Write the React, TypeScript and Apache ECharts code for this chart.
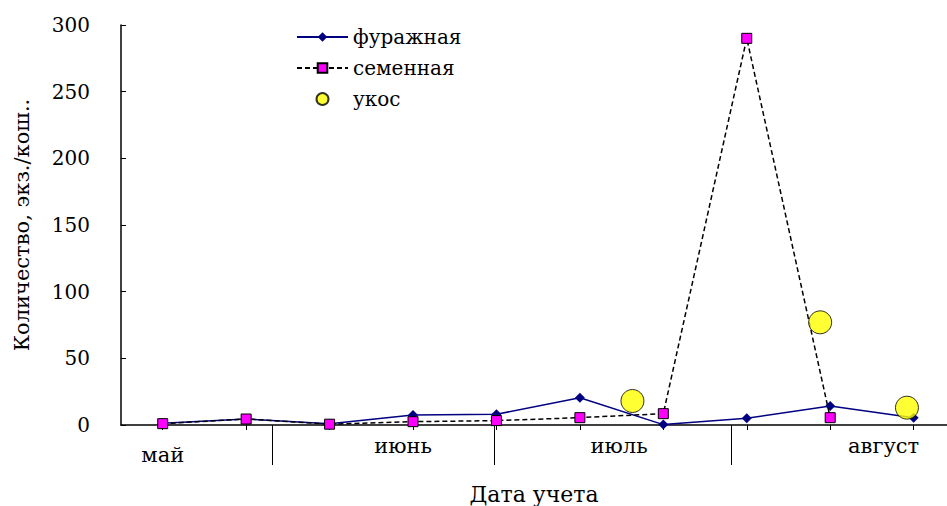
import React, { useEffect, useRef } from "react";
import * as echarts from "echarts";

const pointIndex = [0, 1, 2, 3, 4, 5, 6, 7, 8, 9];
const furazhnaya = [1.3, 4.5, 1, 7.5, 8, 20.5, 0.3, 5, 14.2, 5.5];
const semennaya = [1, 4.5, 0.6, 2.5, 3.3, 5.5, 8.5, 290, 5.5];
const ukosX = [5.63, 7.88, 8.92];
const ukosY = [18, 77, 13];
const monthLabels = ["май", "июнь", "июль", "август"];
const monthLabelPos = [0, 2.88, 5.47, 8.64];
const monthBoundaries = [1.31, 3.97, 6.81];
const yTicks = { min: 0, max: 300, interval: 50 };

const FONT = "DejaVu Serif";

export default function App() {
  const ref = useRef<HTMLDivElement>(null);
  useEffect(() => {
    if (!ref.current) return;
    const chart = echarts.init(ref.current, null, { renderer: "svg" });
    const xMin = -0.5;
    const xMax = 9.4;
    chart.setOption({
      animation: false,
      backgroundColor: "#ffffff",
      textStyle: { fontFamily: FONT, color: "#000" },
      legend: {
        orient: "vertical",
        left: 296,
        top: 27,
        padding: 0,
        itemGap: 11,
        itemWidth: 51,
        itemHeight: 12,
        textStyle: { fontFamily: FONT, fontSize: 20, color: "#000" },
        data: ["фуражная", "семенная", "укос"],
      },
      grid: { left: 121, right: 0, top: 25, bottom: 81, containLabel: false, outerBoundsMode: "none" },
      xAxis: [
        {
          type: "value",
          min: xMin,
          max: xMax,
          position: "bottom",
          splitLine: { show: false },
          axisLine: { show: true, onZero: false, lineStyle: { color: "#000", width: 1.5 } },
          axisTick: {
            show: true,
            customValues: pointIndex,
            length: 5,
            lineStyle: { color: "#000", width: 1 },
          },
          axisLabel: {
            show: true,
            customValues: monthLabelPos,
            margin: 10,
            fontFamily: FONT,
            fontSize: 21,
            color: "#000",
            formatter: (v: number) => {
              const i = monthLabelPos.indexOf(v);
              const t = i >= 0 ? monthLabels[i] : "";
              return i === 0 ? "{low|" + t + "}" : t;
            },
            rich: {
              low: { fontFamily: FONT, fontSize: 21, color: "#000", padding: [9, 0, 0, 0] },
            },
          },
          name: "Дата учета",
          nameLocation: "middle",
          nameGap: 58,
          nameTextStyle: { fontFamily: FONT, fontSize: 22, color: "#000" },
        },
        {
          type: "value",
          min: xMin,
          max: xMax,
          position: "bottom",
          splitLine: { show: false },
          axisLine: { show: false, onZero: false },
          axisLabel: { show: false },
          axisTick: {
            show: true,
            customValues: monthBoundaries,
            length: 40,
            lineStyle: { color: "#000", width: 1 },
          },
        },
      ],
      yAxis: {
        type: "value",
        min: yTicks.min,
        max: yTicks.max,
        interval: yTicks.interval,
        splitLine: { show: false },
        axisLine: { show: true, onZero: false, lineStyle: { color: "#000", width: 1.5 } },
        axisTick: { show: true, inside: true, length: 5, lineStyle: { color: "#000" } },
        axisLabel: { margin: 31, fontFamily: FONT, fontSize: 20, color: "#000" },
        name: "Количество, экз./кош..",
        nameLocation: "middle",
        nameGap: 89,
        nameTextStyle: { fontFamily: FONT, fontSize: 21, color: "#000" },
      },
      series: [
        {
          name: "фуражная",
          type: "line",
          xAxisIndex: 0,
          data: furazhnaya.map((v, i) => [pointIndex[i], v]),
          symbol: "diamond",
          symbolSize: 10,
          lineStyle: { color: "#000080", width: 1.5 },
          itemStyle: { color: "#000080" },
          z: 3,
        },
        {
          name: "семенная",
          type: "line",
          xAxisIndex: 0,
          data: semennaya.map((v, i) => [pointIndex[i], v]),
          symbol: "rect",
          symbolSize: 10,
          lineStyle: { color: "#000", width: 1.5, type: [5, 3] },
          itemStyle: { color: "#ff00ff", borderColor: "#000", borderWidth: 1 },
          z: 4,
        },
        {
          name: "укос",
          type: "scatter",
          xAxisIndex: 0,
          data: ukosX.map((x, i) => [x, ukosY[i]]),
          symbol: "circle",
          symbolSize: 23,
          itemStyle: { color: "#ffff00", borderColor: "#000", borderWidth: 1 },
          z: 5,
        },
      ],
    });
    return () => chart.dispose();
  }, []);
  return (
    <div
      ref={ref}
      style={{ position: "fixed", left: 0, top: 0, width: 947, height: 506 }}
    />
  );
}
